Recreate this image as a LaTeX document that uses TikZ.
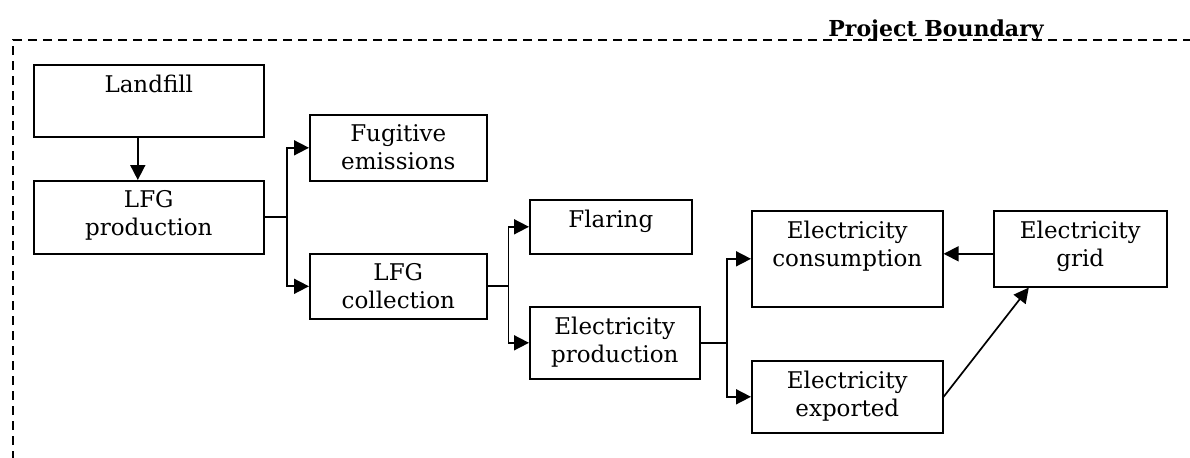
\documentclass[tikz,border=0pt]{standalone}
\usepackage{fontspec}
\setmainfont{DejaVu Serif}
\usetikzlibrary{arrows.meta}
\newcommand\boxtxt[3]{\parbox[c][#2][t]{#1}{\vspace*{5pt}\centering #3\par}}
\tikzset{
  every node/.style={font=\fontsize{11.5pt}{14pt}\selectfont},
  blk/.style={draw, line width=0.8pt, inner sep=0pt, anchor=north west},
  arr/.style={line width=0.85pt, -{Triangle[length=7.5pt,width=7.5pt]}},
  boundary/.style={line width=1.1pt, dash pattern=on 4.7pt off 2.8pt},
}
\begin{document}
\begin{tikzpicture}[x=0.5pt,y=-0.5pt]
\useasboundingbox (0,0) rectangle (1190,457);
% boundary
\coordinate (bl) at (13,460);
\coordinate (tl) at (13,40);
\coordinate (tr) at (1192,40);
\draw[boundary] (bl) -- (tl) -- (tr);
\node[font=\fontsize{11pt}{13pt}\selectfont\bfseries, anchor=base, inner sep=0pt] (pb) at (936,36) {Project Boundary};
% boxes
\node[blk] (landfill) at (33,64)  {\boxtxt{115pt}{36pt}{Landfill}};
\node[blk] (lfgprod)  at (33,180) {\boxtxt{115pt}{36.5pt}{LFG\\production}};
\node[blk] (fugitive) at (309,114) {\boxtxt{88.5pt}{33pt}{Fugitive\\emissions}};
\node[blk] (lfgcoll)  at (309,253) {\boxtxt{88.5pt}{32.5pt}{LFG\\collection}};
\node[blk] (flaring)  at (529,199) {\boxtxt{81pt}{27pt}{Flaring}};
\node[blk] (elprod)   at (529,306) {\boxtxt{85pt}{36pt}{Electricity\\production}};
\node[blk] (elcons)   at (751,210) {\boxtxt{95.5pt}{48pt}{Electricity\\consumption}};
\node[blk] (elgrid)   at (993,210) {\boxtxt{86.5pt}{38pt}{Electricity\\grid}};
\node[blk] (elexp)    at (751,360) {\boxtxt{95.5pt}{36pt}{Electricity\\exported}};
% connectors
\draw[arr] ([xshift=-5.5pt]landfill.south) -- ([xshift=-5.5pt]lfgprod.north);
\draw[arr] (lfgprod.east) -- ++(22.5,0) |- (fugitive.west);
\draw[arr] (lfgprod.east) -- ++(22.5,0) |- (lfgcoll.west);
\draw[arr] (lfgcoll.east) -- ++(21,0) |- (flaring.west);
\draw[arr] (lfgcoll.east) -- ++(21,0) |- (elprod.west);
\draw[arr] (elprod.east) -- ++(26.5,0) |- (elcons.west);
\draw[arr] (elprod.east) -- ++(26.5,0) |- (elexp.west);
\coordinate (gridin) at ([yshift=-2.5pt]elgrid.west);
\draw[arr] (gridin) -- (elcons.east |- gridin);
\draw[arr] (elexp.east) -- ([xshift=-25.75pt]elgrid.south);
\end{tikzpicture}
\end{document}
